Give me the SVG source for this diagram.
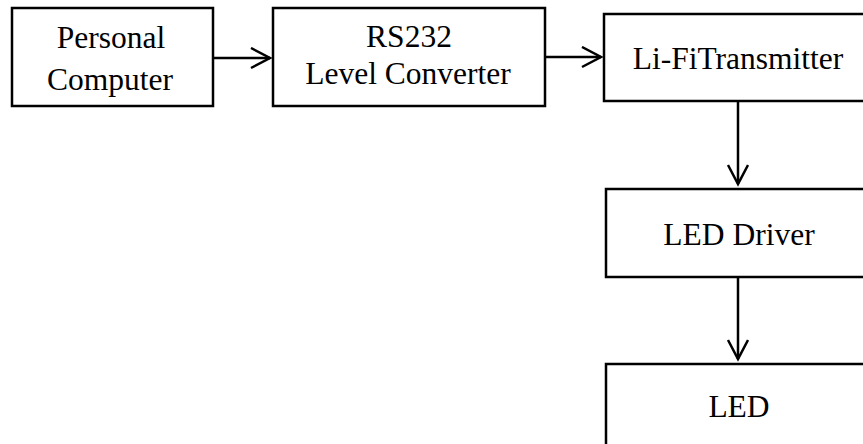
<svg xmlns="http://www.w3.org/2000/svg" width="863" height="444" viewBox="0 0 863 444">
<style>
.box{fill:#fff;stroke:#000;stroke-width:2.5}
.t{font-family:"Liberation Serif","Times New Roman",serif;font-size:31.5px;fill:#000;text-anchor:middle}
.c{stroke:#000;stroke-width:2.5;fill:none}
</style>
<defs>
<marker id="ah" markerWidth="24" markerHeight="24" refX="20" refY="11" orient="auto" markerUnits="userSpaceOnUse">
<path d="M1,1 L20,11 L1,21" fill="none" stroke="#000" stroke-width="2.5"/>
</marker>
</defs>
<rect width="863" height="444" fill="#fff"/>
<g id="pc"><rect class="box" x="12" y="8" width="201" height="98"/>
<text class="t" x="111" y="48">Personal</text><text class="t" x="110" y="90">Computer</text></g>
<g id="rs232"><rect class="box" x="273" y="8" width="272" height="98"/>
<text class="t" x="409" y="47">RS232</text><text class="t" x="408" y="84">Level Converter</text></g>
<g id="tx"><rect class="box" x="604" y="14" width="270" height="87"/>
<text class="t" x="738" y="69">Li-FiTransmitter</text></g>
<g id="driver"><rect class="box" x="606" y="189" width="270" height="88"/>
<text class="t" x="739" y="245">LED Driver</text></g>
<g id="led"><rect class="box" x="606" y="364" width="270" height="90"/>
<text class="t" x="739" y="417">LED</text></g>
<g id="connectors">
<line class="c" x1="213" y1="58" x2="270" y2="58" marker-end="url(#ah)"/>
<line class="c" x1="545" y1="57" x2="601" y2="57" marker-end="url(#ah)"/>
<line class="c" x1="738" y1="101" x2="738" y2="184" marker-end="url(#ah)"/>
<line class="c" x1="738" y1="277" x2="738" y2="359" marker-end="url(#ah)"/>
</g>
</svg>
